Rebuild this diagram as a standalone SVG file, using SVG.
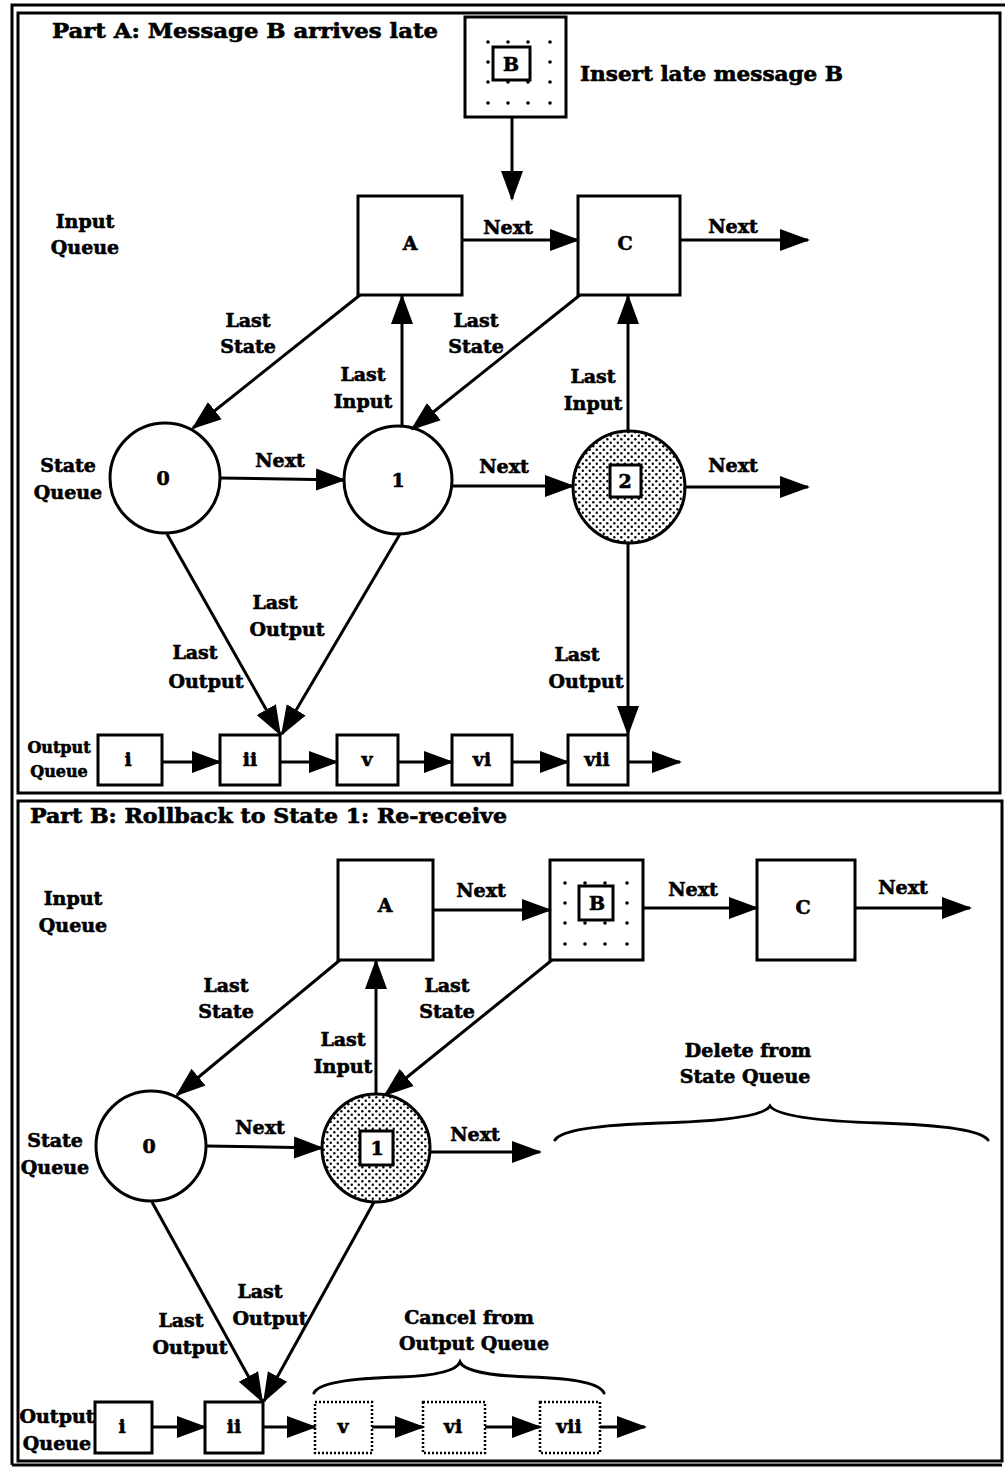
<svg xmlns="http://www.w3.org/2000/svg" width="1005" height="1468" viewBox="0 0 1005 1468">
<style>
text{font-family:"DejaVu Serif","Liberation Serif",serif;font-weight:bold;fill:#000;stroke:#000;stroke-width:0.6;text-anchor:middle;font-size:19px}
.title{text-anchor:start;font-size:20px}
.small{font-size:16px}
.node{fill:#fff;stroke:#000;stroke-width:3}
.stip{fill:url(#stip);stroke:#000;stroke-width:3}
.dotted{fill:#fff;stroke:#000;stroke-width:2.5;stroke-dasharray:2 2}
.edge{fill:none;stroke:#000;stroke-width:3}
.frame{fill:none;stroke:#000;stroke-width:3}
.brace{fill:none;stroke:#000;stroke-width:3;stroke-linecap:round}
</style>
<defs>
<marker id="ah" markerUnits="userSpaceOnUse" markerWidth="30" markerHeight="24" refX="28" refY="11" orient="auto" viewBox="0 0 30 22">
<path d="M0,0 L30,11 L0,22 z" fill="#000"/>
</marker>
<pattern id="stip" width="7" height="7" patternUnits="userSpaceOnUse">
<rect width="7" height="7" fill="#fff"/>
<circle cx="1.8" cy="1.8" r="1.2" fill="#000"/>
<circle cx="5.3" cy="5.3" r="1.2" fill="#000"/>
</pattern>
<g id="dots4">
<circle cx="0" cy="0" r="1.8"/><circle cx="20" cy="0" r="1.8"/><circle cx="40" cy="0" r="1.8"/><circle cx="62" cy="0" r="1.8"/>
<circle cx="0" cy="20" r="1.8"/><circle cx="62" cy="20" r="1.8"/>
<circle cx="0" cy="40" r="1.8"/><circle cx="20" cy="40" r="1.8"/><circle cx="40" cy="40" r="1.8"/><circle cx="62" cy="40" r="1.8"/>
<circle cx="0" cy="61" r="1.8"/><circle cx="20" cy="61" r="1.8"/><circle cx="40" cy="61" r="1.8"/><circle cx="62" cy="61" r="1.8"/>
</g>
</defs>
<rect width="1005" height="1468" fill="#fff"/>

<!-- frames -->
<g id="frames">
<path class="frame" d="M12,1465 L12,5 L1005,5"/>
<path class="frame" d="M12,1465 L1002,1465"/>
<rect class="frame" x="18" y="13" width="982" height="780"/>
<rect class="frame" x="18" y="801" width="984" height="660"/>
</g>

<!-- ===== Part A ===== -->
<text class="title" x="52" y="38" textLength="386" lengthAdjust="spacingAndGlyphs">Part A:  Message B arrives late</text>
<text class="title" x="580" y="81" textLength="263" lengthAdjust="spacingAndGlyphs">Insert late message B</text>
<g id="a-labels">
<text x="85" y="228">Input</text><text x="85" y="254">Queue</text>
<text x="68" y="472">State</text><text x="68" y="499">Queue</text>
<text class="small" x="59" y="753">Output</text><text class="small" x="59" y="777">Queue</text>
</g>

<g id="a-lateB">
<rect class="node" x="465" y="17" width="101" height="100"/>
<use href="#dots4" x="488" y="42"/>
<rect class="node" x="493" y="47" width="37" height="33" stroke-width="3"/>
<text x="511" y="71">B</text>
</g>
<g id="a-A"><rect class="node" x="358" y="196" width="104" height="99"/><text x="410" y="250">A</text></g>
<g id="a-C"><rect class="node" x="578" y="196" width="102" height="99"/><text x="625" y="250">C</text></g>
<g id="a-s0"><circle class="node" cx="165" cy="478" r="55"/><text x="163" y="485">0</text></g>
<g id="a-s1"><circle class="node" cx="398" cy="480" r="54"/><text x="398" y="487">1</text></g>
<g id="a-s2"><circle class="stip" cx="629" cy="487" r="56"/><rect class="node" x="610" y="465" width="31" height="32"/><text x="625" y="488">2</text></g>
<g id="a-oi"><rect class="node" x="98" y="735" width="64" height="50"/><text x="128" y="766">i</text></g>
<g id="a-oii"><rect class="node" x="220" y="735" width="60" height="50"/><text x="250" y="766">ii</text></g>
<g id="a-ov"><rect class="node" x="337" y="735" width="61" height="50"/><text x="367" y="766">v</text></g>
<g id="a-ovi"><rect class="node" x="452" y="735" width="60" height="50"/><text x="482" y="766">vi</text></g>
<g id="a-ovii"><rect class="node" x="568" y="735" width="60" height="50"/><text x="597" y="766">vii</text></g>

<g id="a-edges">
<line class="edge" x1="512" y1="117" x2="512" y2="199" marker-end="url(#ah)"/>
<line class="edge" x1="462" y1="240" x2="578" y2="240" marker-end="url(#ah)"/>
<line class="edge" x1="680" y1="240" x2="808" y2="240" marker-end="url(#ah)"/>
<line class="edge" x1="360" y1="295" x2="193" y2="428" marker-end="url(#ah)"/>
<line class="edge" x1="580" y1="295" x2="412" y2="429" marker-end="url(#ah)"/>
<line class="edge" x1="402" y1="426" x2="402" y2="296" marker-end="url(#ah)"/>
<line class="edge" x1="628" y1="431" x2="628" y2="296" marker-end="url(#ah)"/>
<line class="edge" x1="220" y1="478" x2="344" y2="480" marker-end="url(#ah)"/>
<line class="edge" x1="452" y1="486" x2="573" y2="486" marker-end="url(#ah)"/>
<line class="edge" x1="685" y1="487" x2="808" y2="487" marker-end="url(#ah)"/>
<line class="edge" x1="167" y1="534" x2="280" y2="734" marker-end="url(#ah)"/>
<line class="edge" x1="400" y1="534" x2="282" y2="734" marker-end="url(#ah)"/>
<line class="edge" x1="628" y1="543" x2="628" y2="734" marker-end="url(#ah)"/>
<line class="edge" x1="162" y1="762" x2="220" y2="762" marker-end="url(#ah)"/>
<line class="edge" x1="280" y1="762" x2="337" y2="762" marker-end="url(#ah)"/>
<line class="edge" x1="398" y1="762" x2="452" y2="762" marker-end="url(#ah)"/>
<line class="edge" x1="512" y1="762" x2="568" y2="762" marker-end="url(#ah)"/>
<line class="edge" x1="628" y1="762" x2="680" y2="762" marker-end="url(#ah)"/>
</g>
<g id="a-edge-labels">
<text x="508" y="234">Next</text>
<text x="733" y="233">Next</text>
<text x="248" y="327">Last</text><text x="248" y="353">State</text>
<text x="476" y="327">Last</text><text x="476" y="353">State</text>
<text x="363" y="381">Last</text><text x="363" y="408">Input</text>
<text x="593" y="383">Last</text><text x="593" y="410">Input</text>
<text x="280" y="467">Next</text>
<text x="504" y="473">Next</text>
<text x="733" y="472">Next</text>
<text x="275" y="609">Last</text><text x="287" y="636">Output</text>
<text x="195" y="659">Last</text><text x="206" y="688">Output</text>
<text x="577" y="661">Last</text><text x="586" y="688">Output</text>
</g>

<!-- ===== Part B ===== -->
<text class="title" x="30" y="823" textLength="477" lengthAdjust="spacingAndGlyphs">Part B:  Rollback to State 1:  Re-receive</text>
<g id="b-labels">
<text x="73" y="905">Input</text><text x="73" y="932">Queue</text>
<text x="55" y="1147">State</text><text x="55" y="1174">Queue</text>
<text x="57" y="1423">Output</text><text x="57" y="1450">Queue</text>
<text x="748" y="1057">Delete from</text><text x="745" y="1083">State Queue</text>
<text x="469" y="1324">Cancel from</text><text x="474" y="1350">Output Queue</text>
</g>
<g id="b-A"><rect class="node" x="338" y="860" width="95" height="100"/><text x="385" y="912">A</text></g>
<g id="b-B">
<rect class="node" x="550" y="860" width="93" height="100"/>
<use href="#dots4" x="565" y="883"/>
<rect class="node" x="579" y="886" width="34" height="34"/>
<text x="597" y="910">B</text>
</g>
<g id="b-C"><rect class="node" x="757" y="860" width="98" height="100"/><text x="803" y="914">C</text></g>
<g id="b-s0"><circle class="node" cx="151" cy="1146" r="55"/><text x="149" y="1153">0</text></g>
<g id="b-s1"><circle class="stip" cx="376" cy="1148" r="54"/><rect class="node" x="360" y="1131" width="33" height="34"/><text x="377" y="1155">1</text></g>
<g id="b-oi"><rect class="node" x="95" y="1402" width="57" height="51"/><text x="122" y="1433">i</text></g>
<g id="b-oii"><rect class="node" x="205" y="1402" width="58" height="51"/><text x="234" y="1433">ii</text></g>
<g id="b-ov"><rect class="dotted" x="315" y="1402" width="57" height="51"/><text x="343" y="1433">v</text></g>
<g id="b-ovi"><rect class="dotted" x="423" y="1402" width="62" height="51"/><text x="453" y="1433">vi</text></g>
<g id="b-ovii"><rect class="dotted" x="540" y="1402" width="60" height="51"/><text x="569" y="1433" font-size="16">vii</text></g>

<g id="b-edges">
<line class="edge" x1="433" y1="910" x2="550" y2="910" marker-end="url(#ah)"/>
<line class="edge" x1="643" y1="908" x2="757" y2="908" marker-end="url(#ah)"/>
<line class="edge" x1="855" y1="908" x2="970" y2="908" marker-end="url(#ah)"/>
<line class="edge" x1="340" y1="960" x2="177" y2="1095" marker-end="url(#ah)"/>
<line class="edge" x1="552" y1="960" x2="385" y2="1095" marker-end="url(#ah)"/>
<line class="edge" x1="376" y1="1094" x2="376" y2="961" marker-end="url(#ah)"/>
<line class="edge" x1="206" y1="1146" x2="322" y2="1148" marker-end="url(#ah)"/>
<line class="edge" x1="430" y1="1152" x2="540" y2="1152" marker-end="url(#ah)"/>
<line class="edge" x1="152" y1="1202" x2="262" y2="1401" marker-end="url(#ah)"/>
<line class="edge" x1="374" y1="1202" x2="264" y2="1401" marker-end="url(#ah)"/>
<line class="edge" x1="152" y1="1427" x2="205" y2="1427" marker-end="url(#ah)"/>
<line class="edge" x1="263" y1="1427" x2="315" y2="1427" marker-end="url(#ah)"/>
<line class="edge" x1="372" y1="1427" x2="423" y2="1427" marker-end="url(#ah)"/>
<line class="edge" x1="485" y1="1427" x2="540" y2="1427" marker-end="url(#ah)"/>
<line class="edge" x1="600" y1="1427" x2="645" y2="1427" marker-end="url(#ah)"/>
<path class="brace" d="M555,1140 Q563,1126 660,1123 Q762,1120 770,1106 Q780,1120 880,1123 Q978,1126 988,1140"/>
<path class="brace" d="M314,1393 Q320,1379 400,1377 Q455,1375 460,1362 Q466,1375 530,1377 Q598,1379 604,1393"/>
</g>
<g id="b-edge-labels">
<text x="481" y="897">Next</text>
<text x="693" y="896">Next</text>
<text x="903" y="894">Next</text>
<text x="226" y="992">Last</text><text x="226" y="1018">State</text>
<text x="447" y="992">Last</text><text x="447" y="1018">State</text>
<text x="343" y="1046">Last</text><text x="343" y="1073">Input</text>
<text x="260" y="1134">Next</text>
<text x="475" y="1141">Next</text>
<text x="260" y="1298">Last</text><text x="270" y="1325">Output</text>
<text x="181" y="1327">Last</text><text x="190" y="1354">Output</text>
</g>
</svg>
